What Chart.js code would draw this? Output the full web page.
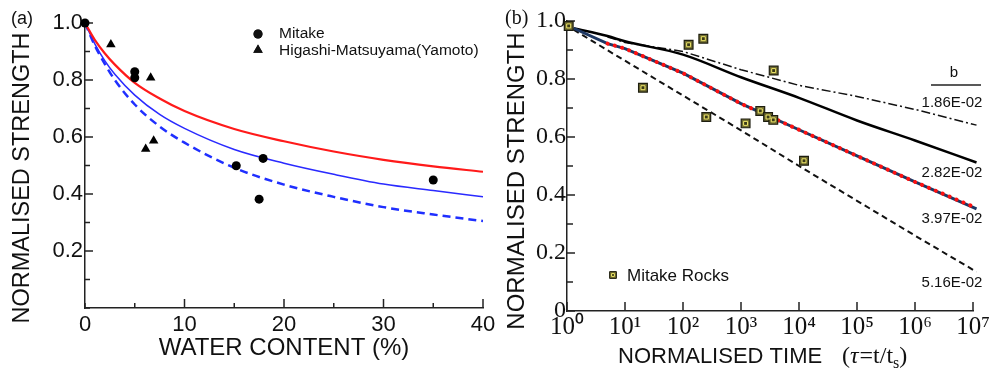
<!DOCTYPE html>
<html>
<head>
<meta charset="utf-8">
<script src="https://cdn.jsdelivr.net/npm/chart.js@4"></script>
<style>
  body { margin: 0; background: #fff; }
  #wrap { position: relative; width: 992px; height: 371px; }
  canvas { position: absolute; top: 0; }
  #chartA { left: 0; }
  #chartB { left: 490px; }
</style>
</head>
<body>
<div id="wrap">
  <canvas id="chartA" width="500" height="371"></canvas>
  <canvas id="chartB" width="502" height="371"></canvas>
</div>
<script>
// (a) strength vs water content
const waterX = [0, 1, 2, 3, 5, 7.5, 10, 15, 20, 25, 30, 35, 40]
const redFit = [1.0, 0.94, 0.893, 0.854, 0.79, 0.735, 0.691, 0.628, 0.585, 0.549, 0.52, 0.497, 0.478]
const blueFit = [1.0, 0.926, 0.867, 0.82, 0.747, 0.679, 0.63, 0.556, 0.508, 0.469, 0.435, 0.412, 0.39]
const blueDashFit = [1.0, 0.92, 0.856, 0.80, 0.714, 0.637, 0.58, 0.492, 0.433, 0.39, 0.354, 0.328, 0.305]

const mitakeW = [0, 5, 5, 15.2, 17.5, 17.9, 35]
const mitakeS = [1.0, 0.829, 0.808, 0.499, 0.382, 0.525, 0.449]
const yamotoW = [2.6, 6.6, 6.1, 6.9]
const yamotoS = [0.925, 0.808, 0.558, 0.587]

// (b) strength vs normalised time
const tauLine = [1.3, 5, 10, 100, 1e3, 1e4, 1e5, 1e6, 1.15e7]
const b186 = [null, 0.945, 0.926, 0.895, 0.832, 0.778, 0.74, 0.695, 0.641]
const b282 = [0.975, 0.948, 0.93, 0.884, 0.806, 0.735, 0.657, 0.588, 0.512]
const b397 = [0.975, 0.922, 0.905, 0.82, 0.715, 0.625, 0.535, 0.445, 0.352]
const b397red = [null, 0.922, 0.905, 0.82, 0.715, 0.625, 0.535, 0.445, 0.355]
const b516 = [0.97, 0.899, 0.863, 0.743, 0.623, 0.5, 0.38, 0.26, 0.135]
const bLabels = ['1.86E-02', '2.82E-02', '3.97E-02', '5.16E-02']

const rockTau = [1.07, 125, 224, 20.4, 252, 1200, 2150, 2930, 3600, 3660, 12200]
const rockS = [0.983, 0.918, 0.939, 0.77, 0.669, 0.647, 0.69, 0.669, 0.659, 0.829, 0.518]

const tauTicks = [1, 10, 100, 1e3, 1e4, 1e5, 1e6, 1e7]
const sup = ['⁰', '¹', '²', '³', '⁴', '⁵', '⁶', '⁷']

const pts = (xs, ys) => xs.map((x, i) => ({x: x, y: ys[i]}))

const SANS = '"Liberation Sans", Arial, sans-serif'
const SERIF = '"Liberation Serif", "Times New Roman", serif'

// no extra room for overflowing tick labels, the layout padding decides
const noOverflow = s => { s.paddingLeft = 0; s.paddingRight = 0; s.paddingTop = 0; s.paddingBottom = 0 }

// ticks pointing into the plot
const innerTicks = {
  id: 'innerTicks',
  beforeDatasetsDraw(chart, args, opts) {
    const ctx = chart.ctx
    const area = chart.chartArea
    const {x, y} = chart.scales
    ctx.save()
    ctx.strokeStyle = '#222'
    ctx.lineWidth = 1.5
    x.ticks.forEach(t => {
      const px = x.getPixelForValue(t.value)
      const len = t.label ? opts.xMajor : opts.xMinor
      ctx.beginPath()
      ctx.moveTo(px, area.bottom)
      ctx.lineTo(px, area.bottom - len)
      ctx.stroke()
    })
    y.ticks.forEach(t => {
      const py = y.getPixelForValue(t.value)
      const len = t.label ? opts.yMajor : opts.yMinor
      ctx.beginPath()
      ctx.moveTo(area.left, py)
      ctx.lineTo(area.left + len, py)
      ctx.stroke()
    })
    ctx.restore()
  }
}

const notesA = {
  id: 'notesA',
  afterDraw(chart) {
    const ctx = chart.ctx
    ctx.save()
    ctx.fillStyle = '#111'
    ctx.textBaseline = 'middle'
    ctx.font = '18px ' + SANS
    ctx.fillText('(a)', 11, 19)

    ctx.save()
    ctx.translate(23, 178)
    ctx.rotate(-Math.PI / 2)
    ctx.textAlign = 'center'
    ctx.font = '23.5px ' + SANS
    ctx.fillText('NORMALISED STRENGTH', 0, 0)
    ctx.restore()

    ctx.font = '15.5px ' + SANS
    Chart.helpers.drawPoint(ctx, {pointStyle: 'circle', radius: 4.5, borderWidth: 0}, 258, 34)
    ctx.fill()
    ctx.fillText('Mitake', 279, 34)
    Chart.helpers.drawPoint(ctx, {pointStyle: 'triangle', radius: 5.5, borderWidth: 0}, 258, 50)
    ctx.fill()
    ctx.fillText('Higashi-Matsuyama(Yamoto)', 279, 51)
    ctx.restore()
  }
}

const notesB = {
  id: 'notesB',
  afterDraw(chart) {
    const ctx = chart.ctx
    ctx.save()
    ctx.fillStyle = '#111'
    ctx.textBaseline = 'middle'
    ctx.font = '20px ' + SERIF
    ctx.fillText('(b)', 15, 19)

    // y title
    ctx.save()
    ctx.translate(27, 181)
    ctx.rotate(-Math.PI / 2)
    ctx.textAlign = 'center'
    ctx.font = '24px ' + SANS
    ctx.fillText('NORMALISED STRENGTH', 0, 0)
    ctx.restore()

    // x title
    let x = 128
    const y = 357
    ctx.font = '22px ' + SANS
    ctx.fillText('NORMALISED TIME', x, y)
    x = 352
    ctx.font = '24px ' + SERIF
    ctx.fillText('(', x, y); x += ctx.measureText('(').width
    ctx.font = 'italic 24px ' + SERIF
    ctx.fillText('τ', x, y); x += ctx.measureText('τ').width + 1
    ctx.font = '24px ' + SERIF
    ctx.fillText('=t/t', x, y); x += ctx.measureText('=t/t').width
    ctx.font = '16px ' + SERIF
    ctx.fillText('s', x, y + 7); x += ctx.measureText('s').width
    ctx.font = '24px ' + SERIF
    ctx.fillText(')', x, y)

    // b column
    ctx.font = '15px ' + SANS
    ctx.textAlign = 'center'
    ctx.fillText('b', 464, 73)
    ctx.strokeStyle = '#222'
    ctx.lineWidth = 1.5
    ctx.beginPath()
    ctx.moveTo(441, 85)
    ctx.lineTo(491, 85)
    ctx.stroke()
    const ys = [103, 173, 219, 283]
    bLabels.forEach((t, i) => ctx.fillText(t, 462, ys[i]))

    // legend
    ctx.textAlign = 'left'
    ctx.fillStyle = '#6f6b30'
    ctx.strokeStyle = '#1e1e10'
    ctx.lineWidth = 1
    Chart.helpers.drawPoint(ctx, {pointStyle: 'rect', radius: 4.8, borderWidth: 1}, 123, 275)
    ctx.fillStyle = '#3a3916'
    ctx.strokeStyle = '#f2ea6a'
    Chart.helpers.drawPoint(ctx, {pointStyle: 'rect', radius: 2, borderWidth: 1}, 123, 275)
    ctx.font = '17px ' + SANS
    ctx.fillStyle = '#111'
    ctx.fillText('Mitake Rocks', 137, 276)
    ctx.restore()
  }
}

new Chart(document.getElementById('chartA'), {
  type: 'scatter',
  data: {
    datasets: [
      {data: pts(waterX, blueDashFit), order: 5, showLine: true, pointRadius: 0, borderColor: '#1f2fff', borderWidth: 2.5,
       borderDash: [8, 5], cubicInterpolationMode: 'monotone'},
      {data: pts(waterX, blueFit), order: 4, showLine: true, pointRadius: 0, borderColor: '#2a2aff', borderWidth: 1.5,
       cubicInterpolationMode: 'monotone'},
      {data: pts(waterX, redFit), order: 3, showLine: true, pointRadius: 0, borderColor: '#ff1a1a', borderWidth: 2.2,
       cubicInterpolationMode: 'monotone'},
      {data: pts(mitakeW, mitakeS), order: 1, pointStyle: 'circle', pointRadius: 4.5, backgroundColor: '#000', borderWidth: 0, clip: false},
      {data: pts(yamotoW, yamotoS), order: 2, pointStyle: 'triangle', pointRadius: 5.5, backgroundColor: '#000', borderWidth: 0, clip: false}
    ]
  },
  options: {
    responsive: false,
    animation: false,
    layout: {padding: {top: 23, right: 17, left: 0, bottom: 0}},
    plugins: {legend: {display: false}, tooltip: {enabled: false}, innerTicks: {xMajor: 9, xMinor: 5, yMajor: 8, yMinor: 5}},
    scales: {
      x: {
        type: 'linear', min: 0, max: 40,
        grid: {display: false, drawTicks: false},
        border: {color: '#222', width: 1.5},
        ticks: {stepSize: 5, autoSkip: false, padding: 4, color: '#111', font: {family: SANS, size: 22},
                callback: v => v % 10 === 0 ? v : ''},
        title: {display: true, text: 'WATER CONTENT (%)', color: '#111', font: {family: SANS, size: 24}, padding: {top: 0, bottom: 8}},
        afterFit: s => { s.height = 63; noOverflow(s) }
      },
      y: {
        min: 0, max: 1,
        grid: {display: false, drawTicks: false},
        border: {color: '#222', width: 1.5},
        ticks: {stepSize: 0.1, autoSkip: false, padding: 2, color: '#111', font: {family: SANS, size: 22},
                callback: v => { const k = Math.round(v * 10); return (k > 0 && k % 2 === 0) ? (k / 10).toFixed(1) : '' }},
        afterFit: s => { s.width = 85; noOverflow(s) }
      }
    }
  },
  plugins: [innerTicks, notesA]
})

new Chart(document.getElementById('chartB'), {
  type: 'scatter',
  data: {
    datasets: [
      {data: pts(tauLine, b186), order: 7, showLine: true, pointRadius: 0, borderColor: '#111', borderWidth: 1.5,
       borderDash: [9, 3, 2, 3], clip: false},
      {data: pts(tauLine, b282), order: 6, showLine: true, pointRadius: 0, borderColor: '#000', borderWidth: 2.5, clip: false,
       cubicInterpolationMode: 'monotone'},
      {data: pts(tauLine, b516), order: 5, showLine: true, pointRadius: 0, borderColor: '#111', borderWidth: 2,
       borderDash: [6, 4], clip: false},
      {data: pts(tauLine, b397), order: 4, showLine: true, pointRadius: 0, borderColor: '#1d3763', borderWidth: 3, clip: false},
      {data: pts(tauLine, b397red), order: 3, showLine: true, pointRadius: 0, borderColor: '#ff1010', borderWidth: 4,
       borderDash: [0.1, 7.4], borderCapStyle: 'round', clip: false},
      {data: pts(rockTau, rockS), order: 2, pointStyle: 'rect', pointRadius: 6.2, backgroundColor: '#6f6b30',
       borderColor: '#1e1e10', borderWidth: 1.2, clip: false},
      {data: pts(rockTau, rockS), order: 1, pointStyle: 'rect', pointRadius: 2.8, backgroundColor: '#3a3916',
       borderColor: '#f2ea6a', borderWidth: 1, clip: false}
    ]
  },
  options: {
    responsive: false,
    animation: false,
    layout: {padding: {top: 21, right: 19, left: 0, bottom: 0}},
    plugins: {legend: {display: false}, tooltip: {enabled: false}, innerTicks: {xMajor: 9, xMinor: 5, yMajor: 8, yMinor: 6}},
    scales: {
      x: {
        type: 'logarithmic', min: 1, max: 1e7,
        grid: {display: false, drawTicks: false},
        border: {color: '#222', width: 1.5},
        afterBuildTicks: s => { s.ticks = tauTicks.map(v => ({value: v})) },
        ticks: {autoSkip: false, maxRotation: 0, padding: 1, color: '#111', font: {family: SERIF, size: 25},
                callback: v => '10' + sup[Math.round(Math.log10(v))]},
        afterFit: s => { s.height = 60; noOverflow(s) }
      },
      y: {
        min: 0, max: 1,
        grid: {display: false, drawTicks: false},
        border: {color: '#222', width: 1.5},
        ticks: {stepSize: 0.1, autoSkip: false, padding: 1, color: '#111', font: {family: SERIF, size: 24},
                callback: v => { const k = Math.round(v * 10); return k % 2 === 0 ? (k === 0 ? '0' : (k / 10).toFixed(1)) : '' }},
        afterFit: s => { s.width = 77; noOverflow(s) }
      }
    }
  },
  plugins: [innerTicks, notesB]
})
</script>
</body>
</html>
